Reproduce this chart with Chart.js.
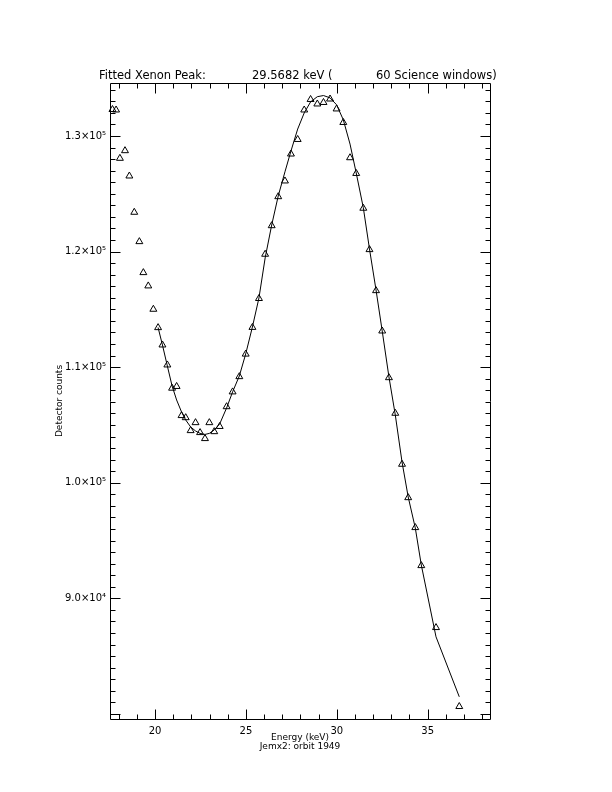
<!DOCTYPE html>
<html>
<head>
<meta charset="utf-8">
<title>Fitted Xenon Peak</title>
<script src="https://cdn.jsdelivr.net/npm/chart.js@4.4.1/dist/chart.umd.min.js"></script>
<style>
    body { margin: 0; background: #fff; }
    canvas { display: block; }
</style>
</head>
<body>
<canvas id="xenonChart" width="612" height="792"></canvas>
<script>
// измерения (треугольники)
const energy = [17.66, 17.86, 18.07, 18.35, 18.59, 18.86, 19.14, 19.36, 19.63, 19.91,
    20.17, 20.41, 20.68, 20.94, 21.19, 21.46, 21.69, 21.96, 22.23, 22.48,
    22.75, 22.99, 23.26, 23.56, 23.94, 24.27, 24.64, 24.99, 25.36, 25.72,
    26.06, 26.42, 26.78, 27.15, 27.48, 27.85, 28.21, 28.56, 28.93, 29.27,
    29.63, 29.99, 30.36, 30.73, 31.07, 31.46, 31.80, 32.16, 32.50, 32.87,
    33.22, 33.59, 33.93, 34.32, 34.65, 35.46, 36.74];
const counts = [132290, 132250, 128070, 128730, 126540, 123400, 120860, 118180, 117030, 115010,
    113420, 111920, 110190, 108180, 108330, 105810, 105630, 104510, 105200, 104340,
    103820, 105200, 104420, 104870, 106580, 107860, 109180, 111130, 113440, 115940,
    119770, 122240, 124750, 126110, 128440, 129700, 132250, 133160, 132770, 132900,
    133200, 132340, 131170, 128120, 126760, 123750, 120170, 116620, 113130, 109090,
    106010, 101600, 98710, 96120, 92830, 87470, 80640];

// модель (линия), начиная с 11-й точки
const fitStart = 10;
const fitCounts = [113430, 111920, 110100, 108380, 107160, 106130, 105430, 104830, 104480, 104270,
    104180, 104270, 104570, 105090, 106470, 107860, 109240, 111140, 113480, 115990,
    119450, 122300, 124810, 126900, 128700, 130600, 132000, 132950, 133400, 133500,
    133300, 132700, 131400, 129300, 126800, 123800, 120230, 116680, 113130, 109160,
    105870, 101800, 98770, 96090, 92890, 86670, 81480];

const xTicks = [20, 25, 30, 35];
const yTicks = [90000, 100000, 110000, 120000, 130000];
const yTickLabels = ['9.0×10⁴', '1.0×10⁵', '1.1×10⁵', '1.2×10⁵', '1.3×10⁵'];

const titleParts = ['Fitted Xenon Peak:', '29.5682 keV (', '60 Science windows)'];

const points = energy.map((e, i) => ({ x: e, y: counts[i] }));
const fitLine = fitCounts.map((c, i) => ({ x: energy[fitStart + i], y: c }));

const FONT = 'DejaVu Sans';

// рамка с внутренними засечками, как в IDL
const idlFrame = {
    id: 'idlFrame',
    afterDatasetsDraw(chart) {
        const { ctx, chartArea: a, scales: { x, y } } = chart;
        const L = Math.round(a.left) + 0.5, R = Math.round(a.right) + 0.5;
        const T = Math.round(a.top) + 0.5, B = Math.round(a.bottom) + 0.5;
        ctx.save();
        ctx.strokeStyle = '#000';
        ctx.lineWidth = 1;
        ctx.beginPath();
        ctx.rect(L, T, R - L, B - T);
        for (let v = Math.ceil(x.min); v <= x.max; v++) {
            const px = Math.round(x.getPixelForValue(v)) + 0.5;
            const len = xTicks.includes(v) ? 10 : 5;
            ctx.moveTo(px, B); ctx.lineTo(px, B - len);
            ctx.moveTo(px, T); ctx.lineTo(px, T + len);
        }
        for (let v = Math.ceil(y.min / 1000) * 1000; v <= y.max; v += 1000) {
            const py = Math.round(y.getPixelForValue(v)) + 0.5;
            const len = v % 10000 === 0 ? 10 : 5;
            ctx.moveTo(L, py); ctx.lineTo(L + len, py);
            ctx.moveTo(R, py); ctx.lineTo(R - len, py);
        }
        ctx.stroke();
        ctx.restore();
    },
    afterDraw(chart) {
        const ctx = chart.ctx;
        ctx.save();
        ctx.fillStyle = '#000';
        ctx.font = '11.5px "' + FONT + '"';
        ctx.textBaseline = 'alphabetic';
        ctx.fillText(titleParts[0], 99, 79);
        ctx.fillText(titleParts[1], 252, 79);
        ctx.fillText(titleParts[2], 376, 79);
        ctx.restore();
    }
};

const ctx = document.getElementById('xenonChart').getContext('2d');

const xenonChart = new Chart(ctx, {
    type: 'scatter',
    data: {
        datasets: [{
            label: 'Fit',
            data: fitLine,
            showLine: true,
            borderColor: '#000',
            borderWidth: 1,
            pointRadius: 0,
            tension: 0,
            fill: false
        }, {
            label: 'Counts',
            data: points,
            pointStyle: 'triangle',
            pointRadius: 4,
            borderColor: '#000',
            backgroundColor: 'rgba(0,0,0,0)',
            borderWidth: 1,
            clip: false
        }]
    },
    options: {
        responsive: false,
        animation: false,
        layout: { padding: { top: 83, right: 122, bottom: 0, left: 0 } },
        plugins: {
            legend: { display: false },
            tooltip: { enabled: false }
        },
        scales: {
            x: {
                type: 'linear',
                min: 17.525,
                max: 38.43,
                grid: { display: false, drawTicks: false },
                border: { display: false },
                afterBuildTicks: (s) => { s.ticks = xTicks.map(v => ({ value: v })); },
                afterFit: (s) => { s.height = 73; },
                ticks: {
                    color: '#000',
                    padding: 6,
                    maxRotation: 0,
                    autoSkip: false,
                    font: { family: FONT, size: 10 },
                    callback: (v) => String(v)
                },
                title: {
                    display: true,
                    text: ['Energy (keV)', 'Jemx2: orbit 1949'],
                    color: '#000',
                    font: { family: FONT, size: 9, lineHeight: 1 },
                    padding: { top: 0, bottom: 41 }
                }
            },
            y: {
                type: 'linear',
                min: 79560,
                max: 134585,
                grid: { display: false, drawTicks: false },
                border: { display: false },
                afterBuildTicks: (s) => { s.ticks = yTicks.map(v => ({ value: v })); },
                afterFit: (s) => { s.width = 110; },
                ticks: {
                    color: '#000',
                    padding: 4,
                    autoSkip: false,
                    font: { family: FONT, size: 10 },
                    callback: (v) => {
                        const i = yTicks.indexOf(v);
                        return i >= 0 ? yTickLabels[i] : '';
                    }
                },
                title: {
                    display: true,
                    text: 'Detector counts',
                    color: '#000',
                    font: { family: FONT, size: 9 },
                    padding: { top: 54, bottom: 0 }
                }
            }
        }
    },
    plugins: [idlFrame]
});
</script>
</body>
</html>
